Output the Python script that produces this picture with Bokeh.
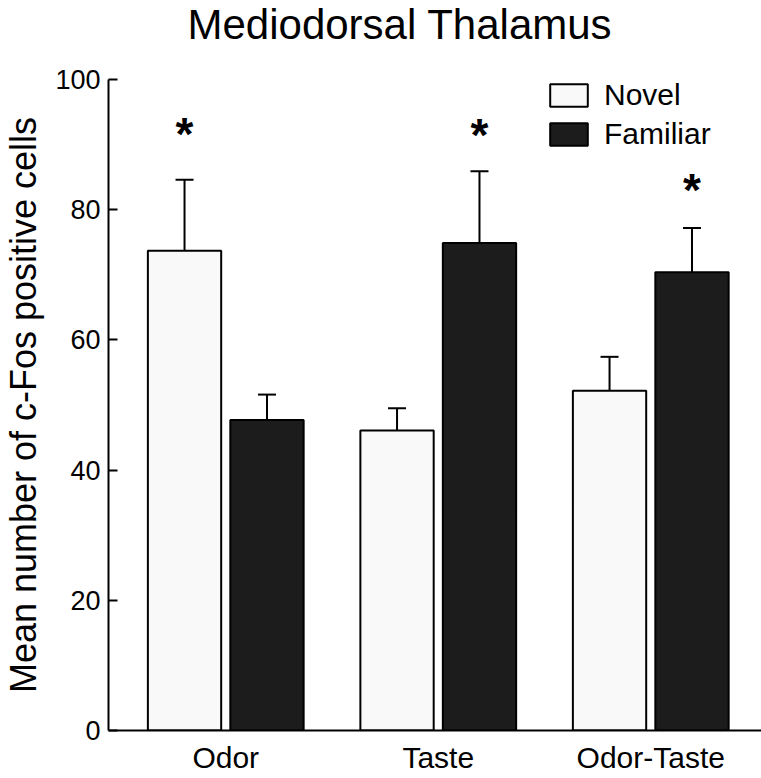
from bokeh.plotting import figure
from bokeh.models import (Range1d, FixedTicker, Whisker, TeeHead, ColumnDataSource,
                          Legend, LegendItem, Title)
from bokeh.core.properties import value
from bokeh.embed import file_html
from bokeh.resources import INLINE
import numpy as np

# ---- data ----
categories = ["Odor", "Taste", "Odor-Taste"]
series = ["Novel", "Familiar"]
novel_mean = [73.7, 46.1, 52.2]
novel_upper = [84.6, 49.5, 57.4]
novel_lower = [62.8, 42.9, 47.5]
familiar_mean = [47.7, 74.9, 70.4]
familiar_upper = [51.6, 85.9, 77.2]
familiar_lower = [43.7, 63.6, 63.6]
sig_series = ["Novel", "Familiar", "Familiar"]   # bar that carries the asterisk
sig_y = [92.3, 92.1, 83.6]                        # asterisk heights
y_ticks = [0, 20, 40, 60, 80, 100]

# ---- layout / style ----
FONT = "Liberation Sans"
NOVEL_COLOR = "#f9f9f9"
FAMILIAR_COLOR = "#1c1c1c"
DODGE = 0.194
BAR_W = 0.345

group_x = np.arange(len(categories)) + 0.5
novel_x = group_x - DODGE
familiar_x = group_x + DODGE
sig_x = [gx - DODGE if s == "Novel" else gx + DODGE for gx, s in zip(group_x, sig_series)]

src_n = ColumnDataSource(dict(x=novel_x, top=novel_mean, upper=novel_upper, lower=novel_lower))
src_f = ColumnDataSource(dict(x=familiar_x, top=familiar_mean, upper=familiar_upper, lower=familiar_lower))

p = figure(width=761, height=778, x_range=Range1d(-0.0518, 3.0211), y_range=Range1d(0, 100),
           output_backend="svg", toolbar_location=None,
           min_border_left=108, min_border_right=0, min_border_top=0, min_border_bottom=48)
p.outline_line_color = None
p.xgrid.visible = False
p.ygrid.visible = False
p.background_fill_color = "white"

p.title.text = "Mediodorsal Thalamus"
p.title.text_font = FONT
p.title.text_font_size = "42px"
p.title.text_font_style = "normal"
p.title.text_color = "black"
p.title.align = "left"
p.title.vertical_align = "top"
p.title.offset = 79
p.title.standoff = 0

# empty spacer between the title and the plot area
spacer = Title(text=" ", text_font_size="2px", standoff=26)
p.add_layout(spacer, "above")

r_n = p.vbar(x="x", top="top", bottom=0, width=BAR_W, source=src_n,
             fill_color=NOVEL_COLOR, line_color="black", line_width=2)
r_f = p.vbar(x="x", top="top", bottom=0, width=BAR_W, source=src_f,
             fill_color=FAMILIAR_COLOR, line_color="black", line_width=2)

for src in (src_n, src_f):
    w = Whisker(base="x", upper="upper", lower="lower", source=src,
                line_color="black", line_width=2,
                upper_head=TeeHead(size=18, line_width=2, line_color="black"),
                lower_head=TeeHead(size=18, line_width=2, line_color="black"))
    p.add_layout(w)

p.text(x=sig_x, y=sig_y, text=["*"] * len(sig_x), text_font=value(FONT),
       text_font_style="bold", text_font_size="46px", text_align="center",
       text_baseline="alphabetic", y_offset=4, text_color="black")

# axes
xa = p.xaxis[0]
xa.ticker = FixedTicker(ticks=list(group_x))
xa.major_label_overrides = {float(gx): c for gx, c in zip(group_x, categories)}
xa.major_tick_line_color = None
xa.major_tick_in = 0
xa.major_tick_out = 0
xa.minor_tick_line_color = None
xa.minor_tick_in = 0
xa.minor_tick_out = 0
xa.axis_line_width = 2
xa.axis_line_color = "black"
xa.major_label_text_font = FONT
xa.major_label_text_font_size = "30px"
xa.major_label_text_color = "black"
xa.major_label_standoff = 10

ya = p.yaxis[0]
ya.ticker = FixedTicker(ticks=y_ticks)
ya.major_tick_in = 9
ya.major_tick_out = 0
ya.major_tick_line_width = 2
ya.major_tick_line_color = "black"
ya.minor_tick_line_color = None
ya.minor_tick_in = 0
ya.minor_tick_out = 0
ya.axis_line_width = 2
ya.axis_line_color = "black"
ya.major_label_text_font = FONT
ya.major_label_text_font_size = "27px"
ya.major_label_text_color = "black"
ya.major_label_standoff = 8
ya.axis_label = "Mean number of c-Fos positive cells"
ya.axis_label_text_font = FONT
ya.axis_label_text_font_size = "36px"
ya.axis_label_text_font_style = "normal"
ya.axis_label_text_color = "black"
ya.axis_label_standoff = 8

legend = Legend(items=[LegendItem(label=series[0], renderers=[r_n]),
                       LegendItem(label=series[1], renderers=[r_f])],
                location=(437, 579), orientation="vertical",
                glyph_width=47, glyph_height=28, label_standoff=12,
                label_text_font=FONT, label_text_font_size="30px",
                label_text_color="black", spacing=5, padding=0, margin=0,
                border_line_alpha=0, background_fill_alpha=0)
p.add_layout(legend)

open("out.html", "w").write(file_html(p, INLINE))
